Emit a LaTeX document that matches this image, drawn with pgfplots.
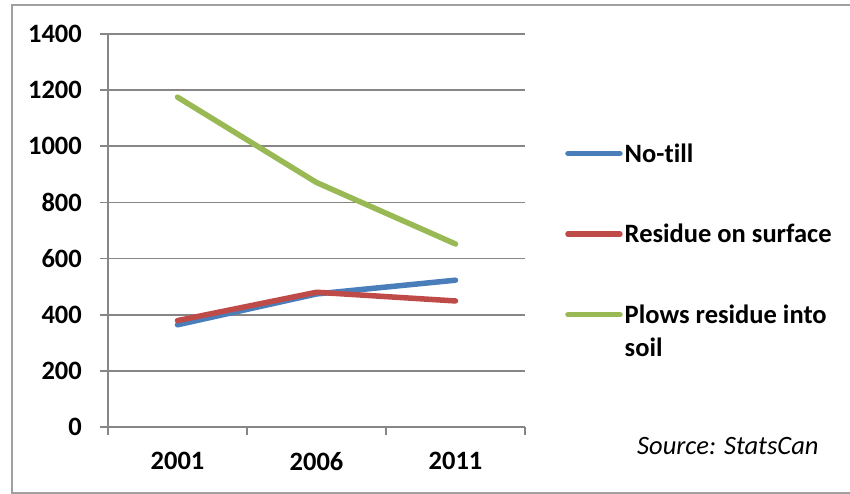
\documentclass[border=0pt]{standalone}
\usepackage{pgfplots}
\pgfplotsset{compat=1.18}
\usepackage{fontspec}
\setmainfont[RawFeature=-liga]{Carlito}

\definecolor{notill}{HTML}{4A7EBB}
\definecolor{residue}{HTML}{BE4B48}
\definecolor{plows}{HTML}{98B954}
\definecolor{gridgray}{HTML}{868686}
\definecolor{framegray}{HTML}{A0A0A0}

\newcommand{\chartfont}{\fontsize{26.5}{33}\selectfont}

\begin{document}
\begin{tikzpicture}[x=1pt,y=1pt]
\useasboundingbox (0,0) rectangle (850,494);
% outer chart frame (right side runs past the page edge)
\draw[framegray, line width=1.5pt] (12,1) rectangle (870,489);

\begin{axis}[
  at={(108pt,67pt)}, anchor=south west,
  scale only axis,
  width=417pt, height=393pt,
  xmin=-0.5, xmax=2.5,
  ymin=0, ymax=1400,
  axis x line=bottom, axis y line=left,
  axis line style={gridgray, line width=1.6pt, -},
  xtick={0,1,2},
  xticklabels={2001,2006,2011},
  major x tick style={draw=none},
  minor xtick={-0.5,0.5,1.5,2.5},
  minor tick length=8pt,
  minor x tick style={gridgray, line width=1.6pt},
  ytick={0,200,...,1400},
  major tick length=8pt,
  tick align=outside,
  ytick style={gridgray, line width=1.6pt},
  ymajorgrids,
  major grid style={gridgray, line width=1.6pt},
  /pgf/number format/assume math mode=true,
  /pgf/number format/1000 sep={},
  tick label style={font=\chartfont\bfseries, text=black},
  yticklabel style={inner sep=0pt, xshift=-18pt},
  xticklabel style={inner sep=0pt, yshift=-17pt},
  legend style={
    at={(rel axis cs:1.096,0.727)}, anchor=north west,
    draw=none, fill=none, inner sep=0pt,
    font=\chartfont\bfseries,
    row sep=56.5pt,
    cells={anchor=west},
  },
  legend image code/.code={
    \draw[#1, line width=5.5pt, line cap=round] (0pt,0pt) -- (52pt,0pt);
  },
  legend cell align=left,
  every axis plot/.append style={line width=5.5pt, line cap=round, line join=round},
  clip=false,
]
\addplot[notill, mark=none] coordinates {(0,364) (1,474) (2,523)};
\addplot[residue, mark=none] coordinates {(0,379) (1,480) (2,449)};
\addplot[plows, mark=none] coordinates {(0,1175) (1,871) (2,652)};
\legend{No-till, Residue on surface,
  {\rlap{\smash{\raisebox{-33pt}{soil}}}Plows residue into}}
\end{axis}

\node[anchor=base west, inner sep=0pt, font=\chartfont\itshape] at (637,39) {Source: StatsCan};
\end{tikzpicture}
\end{document}
